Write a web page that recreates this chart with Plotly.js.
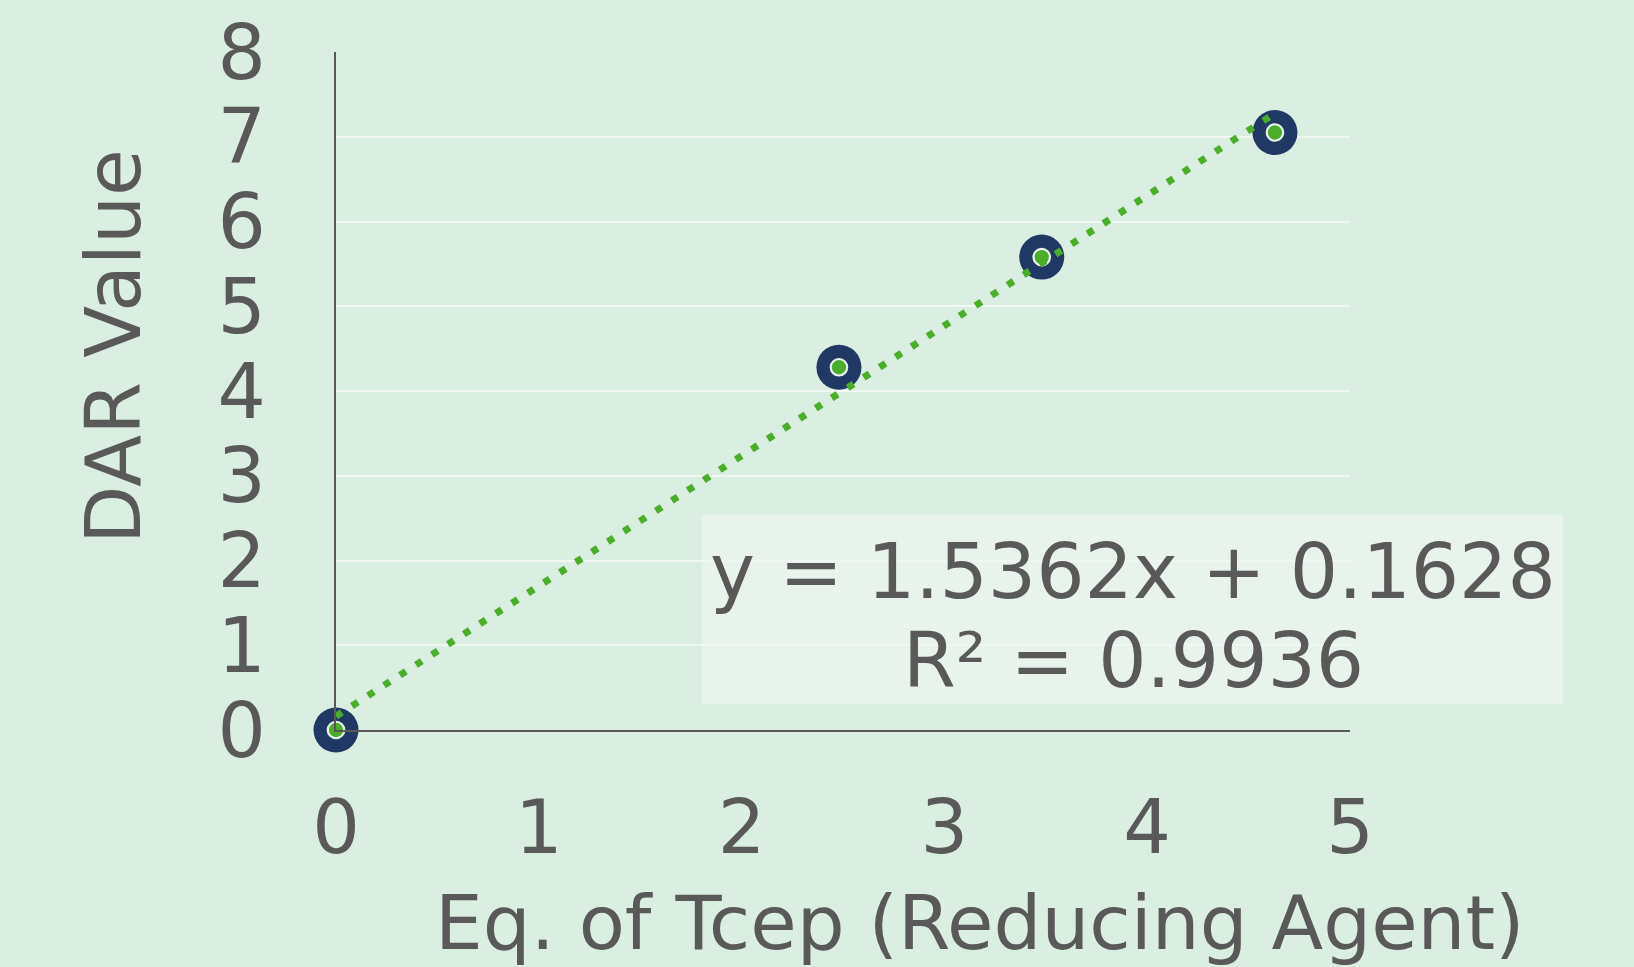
<!DOCTYPE html>
<html><head><meta charset="utf-8">
<script src="https://cdn.plot.ly/plotly-3.0.1.min.js"></script>
<style>html,body{margin:0;padding:0;background:#DAEEE1;}#c{width:1634px;height:967px;}</style>
</head><body><div id="c"></div>
<script>
const eqTcep = [0, 2.48, 3.48, 4.63];
const darValue = [0, 4.28, 5.58, 7.05];
const xTicks = [0, 1, 2, 3, 4, 5];
const yTicks = [0, 1, 2, 3, 4, 5, 6, 7, 8];
const trendSlope = 1.5362;
const trendIntercept = 0.1628;
const trendX = [0, 4.63];
const trendY = trendX.map(x => trendSlope * x + trendIntercept);
const eqText = ["y = 1.5362x + 0.1628", "R² = 0.9936"];
const xTitle = "Eq. of Tcep (Reducing Agent)";
const yTitle = "DAR Value";

const txt = '#595959';
const font = 'DejaVu Sans, Verdana, sans-serif';
const green = '#4BAE2B';
const navy = '#1F3864';

const traces = [
  {x: eqTcep, y: darValue, mode: 'markers', type: 'scatter', cliponaxis: false,
   marker: {size: 45, color: navy}, hoverinfo: 'skip'},
  {x: eqTcep, y: darValue, mode: 'markers', type: 'scatter', cliponaxis: false,
   marker: {size: 16.5, color: green, line: {color: '#E8F3EC', width: 2.2}}, hoverinfo: 'skip'},
  {x: trendX, y: trendY, mode: 'lines', type: 'scatter', cliponaxis: false,
   line: {color: green, width: 7, dash: '7px,12px'}, hoverinfo: 'skip'}
];

const L = 336, R = 1350, T = 52, B = 730;
const W = R - L, H = B - T;
const px = v => (v - L) / W;
const py = v => (B - v) / H;

const layout = {
  width: 1634, height: 967,
  paper_bgcolor: '#DAEEE1', plot_bgcolor: '#DAEEE1',
  margin: {l: L, r: 1634 - R, t: T, b: 967 - B},
  showlegend: false,
  font: {family: font, color: txt},
  xaxis: {range: [0, 5], tickvals: xTicks, showgrid: false, zeroline: false,
    showline: true, linecolor: txt, linewidth: 2, ticks: '',
    tickfont: {size: 75, color: txt, family: font}, ticklabelstandoff: 31, fixedrange: true},
  yaxis: {range: [0, 8], tickvals: yTicks, showgrid: true, gridcolor: '#F0F7F2', gridwidth: 2,
    zeroline: false, showline: true, linecolor: txt, linewidth: 2, ticks: '',
    tickfont: {size: 76, color: txt, family: font}, ticklabelstandoff: 53, fixedrange: true},
  shapes: [
    {type: 'rect', xref: 'paper', yref: 'paper', layer: 'between',
     x0: px(702), x1: px(1563), y0: py(704), y1: py(515),
     fillcolor: 'rgba(240,246,242,0.6)', line: {width: 0}}
  ],
  annotations: [
    {xref: 'paper', yref: 'paper', x: px(1133), y: py(571), xanchor: 'center', yanchor: 'middle',
     text: eqText[0], showarrow: false, font: {size: 76, color: txt, family: font}},
    {xref: 'paper', yref: 'paper', x: px(1133), y: py(660), xanchor: 'center', yanchor: 'middle',
     text: eqText[1], showarrow: false, font: {size: 76, color: txt, family: font}},
    {xref: 'paper', yref: 'paper', x: px(980), y: py(923), xanchor: 'center', yanchor: 'middle',
     text: xTitle, showarrow: false, font: {size: 75.5, color: txt, family: font}},
    {xref: 'paper', yref: 'paper', x: px(113), y: py(347), xanchor: 'center', yanchor: 'middle',
     text: yTitle, textangle: -90, showarrow: false, font: {size: 76, color: txt, family: font}}
  ]
};
Plotly.newPlot('c', traces, layout, {staticPlot: true});
</script>
</body></html>
